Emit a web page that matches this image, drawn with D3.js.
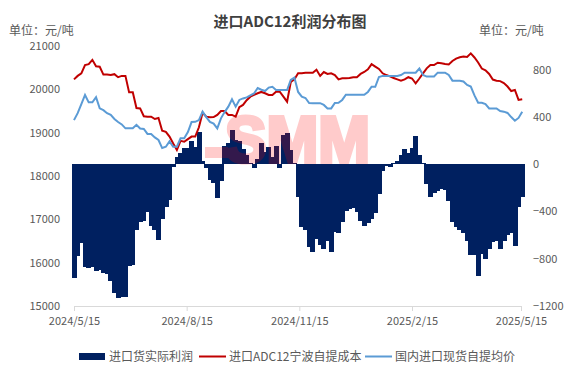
<!DOCTYPE html>
<html><head><meta charset="utf-8">
<script src="https://cdn.jsdelivr.net/npm/d3@7/dist/d3.min.js"></script>
<style>
html,body{margin:0;padding:0;background:#fff;}
text{font-family:"Noto Sans CJK SC","Noto Sans",sans-serif;}
</style></head>
<body><svg id="c" width="575" height="389"></svg>
<script>
const dates = ["2024-05-15","2024-05-18","2024-05-21","2024-05-24","2024-05-27","2024-05-30",
"2024-06-02","2024-06-05","2024-06-08","2024-06-11","2024-06-14","2024-06-17","2024-06-20","2024-06-23","2024-06-26","2024-06-29",
"2024-07-02","2024-07-05","2024-07-08","2024-07-11","2024-07-14","2024-07-17","2024-07-20","2024-07-23","2024-07-26","2024-07-29",
"2024-08-01","2024-08-04","2024-08-07","2024-08-10","2024-08-13","2024-08-16","2024-08-19","2024-08-22","2024-08-25","2024-08-28","2024-08-31",
"2024-09-03","2024-09-06","2024-09-09","2024-09-12","2024-09-15","2024-09-18","2024-09-21","2024-09-24","2024-09-27","2024-09-30",
"2024-10-03","2024-10-06","2024-10-09","2024-10-12","2024-10-15","2024-10-18","2024-10-21","2024-10-24","2024-10-27","2024-10-30",
"2024-11-02","2024-11-05","2024-11-08","2024-11-11","2024-11-14","2024-11-17","2024-11-20","2024-11-23","2024-11-26","2024-11-29",
"2024-12-02","2024-12-05","2024-12-08","2024-12-11","2024-12-14","2024-12-17","2024-12-20","2024-12-23","2024-12-26","2024-12-29",
"2025-01-01","2025-01-04","2025-01-07","2025-01-10","2025-01-13","2025-01-16","2025-01-19","2025-01-22","2025-01-25","2025-01-28","2025-01-31",
"2025-02-03","2025-02-06","2025-02-09","2025-02-12","2025-02-15","2025-02-18","2025-02-21","2025-02-24","2025-02-27",
"2025-03-02","2025-03-05","2025-03-08","2025-03-11","2025-03-14","2025-03-17","2025-03-20","2025-03-23","2025-03-26","2025-03-29",
"2025-04-01","2025-04-04","2025-04-07","2025-04-10","2025-04-13","2025-04-16","2025-04-19","2025-04-22","2025-04-25","2025-04-28",
"2025-05-01","2025-05-04","2025-05-07","2025-05-10","2025-05-13","2025-05-16"];

const cost = [20230,20310,20370,20560,20580,20680,20530,20520,20340,20340,
20330,20350,20280,20310,20310,19930,19930,19570,19560,19380,
19370,19370,19315,19340,19045,19020,18910,18750,18600,18810,
18790,18850,18910,18910,19125,19460,19370,19355,19360,19410,
19500,19500,19410,19410,19370,19590,19640,19750,19830,19870,
19910,19940,19910,19870,19870,19945,19945,19830,19715,20170,
20230,20370,20370,20380,20380,20380,20450,20310,20400,20355,
20370,20330,20230,20255,20255,20260,20280,20280,20355,20400,
20460,20580,20525,20470,20370,20330,20300,20260,20230,20200,
20230,20280,20250,20140,20250,20370,20485,20560,20560,20615,
20600,20585,20575,20655,20710,20740,20755,20745,20830,20735,
20620,20480,20440,20355,20225,20200,20190,20145,20065,19960,
19985,19755,19770];

const price = [19290,19450,19660,19870,19700,19700,19820,19560,19520,19450,
19410,19315,19245,19190,19100,19100,19100,19180,19095,19085,
18970,18970,18890,18830,18645,18675,18800,18675,18675,18870,
18870,19015,19245,19250,19290,19485,19360,19250,19210,19100,
19330,19475,19600,19770,19600,19755,19790,19815,19860,19905,
20030,19990,19960,20040,20060,19985,19985,19985,19985,20215,
20270,19940,19830,19800,19685,19680,19680,19680,19640,19560,
19560,19685,19690,19755,19875,19875,19875,19875,19875,19875,
19940,20060,20060,20285,20310,20310,20310,20310,20310,20330,
20385,20385,20385,20385,20480,20330,20295,20295,20295,20385,
20385,20385,20330,20200,20200,20200,20180,20100,20065,19860,
19690,19690,19660,19560,19560,19560,19500,19485,19455,19360,
19275,19340,19485];

const profit = [-966,-780,-665,-870,-881,-870,-905,-895,-923,-930,
-990,-1090,-1130,-1121,-1121,-860,-853,-560,-487,-480,
-402,-520,-555,-640,-460,-360,-300,-25,60,92,
140,134,200,148,270,30,-30,-130,-160,-290,
-140,150,177,290,205,200,130,78,7,-30,
40,180,100,145,65,150,-30,247,260,120,
10,-280,-530,-560,-700,-741,-630,-680,-715,-650,
-740,-575,-580,-490,-400,-375,-373,-402,-480,-525,
-495,-465,-410,-250,-55,-15,-21,8,25,80,
130,92,140,235,75,10,-170,-275,-245,-230,
-210,-215,-310,-490,-535,-555,-585,-650,-770,-770,
-950,-760,-800,-720,-660,-650,-720,-650,-595,-585,
-690,-360,-275];

const xTicks = ["2024-05-15","2024-08-15","2024-11-15","2025-02-15","2025-05-15"];
const leftTicks = [15000,16000,17000,18000,19000,20000,21000];
const rightTicks = [-1200,-800,-400,0,400,800];
const seriesNames = ["进口货实际利润","进口ADC12宁波自提成本","国内进口现货自提均价"];
const title = "进口ADC12利润分布图";
const unitLabel = "单位：元/吨";

const parse = d3.timeParse("%Y-%m-%d");
const fmt = d3.timeFormat("%Y/%-m/%-d");
const svg = d3.select("#c");
const L = 74, R = 521, T = 46, B = 306;
const x = d3.scaleTime().domain([parse(xTicks[0]), parse(xTicks[4])]).range([L, R]);
const yL = d3.scaleLinear().domain([15000, 21000]).range([B, T]);
const yR = d3.scaleLinear().domain([-1200, 1000]).range([B, T]);
const data = dates.map((d,i)=>({date:parse(d), cost:cost[i], price:price[i], profit:profit[i]}));
const txt = "#595959";

// title
svg.append("text").attr("x",290).attr("y",27).attr("text-anchor","middle")
  .attr("font-size",15).attr("font-weight","bold").attr("fill","#404040").text(title);
svg.append("text").attr("x",9).attr("y",35).attr("font-size",12).attr("fill",txt).text(unitLabel);
svg.append("text").attr("x",479).attr("y",35).attr("font-size",12).attr("fill",txt).text(unitLabel);

// bars
const step = x(parse(dates[1])) - x(parse(dates[0]));
svg.append("g").attr("shape-rendering","crispEdges").selectAll("rect").data(data).join("rect")
  .attr("x", d=>Math.floor(x(d.date)-step/2))
  .attr("width", Math.ceil(step)+1)
  .attr("y", d=>Math.min(yR(d.profit), yR(0)))
  .attr("height", d=>Math.abs(yR(d.profit)-yR(0)))
  .attr("fill","#002060");

// watermark
const wm = svg.append("g").attr("fill","#ff0000").attr("opacity",0.2);
wm.append("rect").attr("x",205).attr("y",147).attr("width",23).attr("height",11);
wm.append("text").attr("x",225).attr("y",yR(0)-2).attr("font-size",64).attr("font-weight","bold")
  .attr("stroke","#ff0000").attr("stroke-width",4).attr("stroke-linejoin","miter")
  .style("font-family","'Liberation Sans',Arial,sans-serif")
  .attr("textLength",145).attr("lengthAdjust","spacingAndGlyphs").text("SMM");

// lines
const lineC = d3.line().x(d=>x(d.date)).y(d=>yL(d.cost));
const lineP = d3.line().x(d=>x(d.date)).y(d=>yL(d.price));
svg.append("path").datum(data).attr("d",lineC).attr("fill","none").attr("stroke","#c00000").attr("stroke-width",2);
svg.append("path").datum(data).attr("d",lineP).attr("fill","none").attr("stroke","#5b9bd5").attr("stroke-width",2);

// x axis
const xa = svg.append("g").attr("transform",`translate(0,${B})`)
  .call(d3.axisBottom(x).tickValues(xTicks.map(parse)).tickFormat(fmt).tickSize(5).tickPadding(6));
xa.select(".domain").attr("stroke","#d9d9d9");
xa.selectAll(".tick line").attr("stroke","#d9d9d9");
xa.selectAll("text").attr("fill",txt).attr("font-size",11);

// left axis
const la = svg.append("g").attr("transform",`translate(${L},0)`)
  .call(d3.axisLeft(yL).tickValues(leftTicks).tickFormat(d3.format("d")).tickSize(0).tickPadding(14));
la.select(".domain").remove();
la.selectAll("text").attr("fill",txt).attr("font-size",11);

// right axis
const ra = svg.append("g").attr("transform",`translate(${R},0)`)
  .call(d3.axisRight(yR).tickValues(rightTicks).tickFormat(d3.format("d")).tickSize(0).tickPadding(12));
ra.select(".domain").remove();
ra.selectAll("text").attr("fill",txt).attr("font-size",11);

// legend
const lg = svg.append("g").attr("font-size",12).attr("fill",txt);
lg.append("rect").attr("x",79).attr("y",353).attr("width",26).attr("height",7).attr("fill","#002060");
lg.append("text").attr("x",109).attr("y",361).text(seriesNames[0]);
lg.append("line").attr("x1",199).attr("x2",226).attr("y1",356.5).attr("y2",356.5).attr("stroke","#c00000").attr("stroke-width",2);
lg.append("text").attr("x",229).attr("y",361).text(seriesNames[1]);
lg.append("line").attr("x1",365).attr("x2",392).attr("y1",356.5).attr("y2",356.5).attr("stroke","#5b9bd5").attr("stroke-width",2);
lg.append("text").attr("x",395).attr("y",361).text(seriesNames[2]);
</script></body></html>
